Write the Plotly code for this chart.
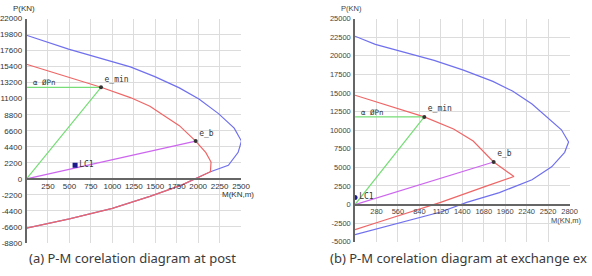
import plotly.graph_objects as go

W, H = 592, 276

# ---------------- Chart (a) data ----------------
a_nom_M = [0, 490, 1210, 1495, 1781, 2009, 2237, 2420, 2504, 2466, 2352, 2143, 1800, 1438, 1000, 500, 0]
a_nom_P = [19700, 17790, 15360, 14030, 12480, 10940, 8950, 6960, 5180, 3640, 1860, 980, -900, -2400, -4050, -5500, -6770]
a_des_M = [0, 480, 868, 1210, 1438, 1600, 1781, 1971, 2090, 2150, 2143, 1800, 1438, 1000, 500, 0]
a_des_P = [15720, 14030, 12560, 11150, 9960, 8700, 7300, 5180, 3600, 2300, 980, -900, -2400, -4050, -5500, -6770]
a_emin = (868, 12560)
a_eb = (1971, 5180)
a_lc1 = (566, 1860)
a_xticks = [250, 500, 750, 1000, 1250, 1500, 1750, 2000, 2250, 2500]
a_yticks = [22000, 19800, 17600, 15400, 13200, 11000, 8800, 6600, 4400, 2200, 0,
            -2200, -4400, -6600, -8800]

# ---------------- Chart (b) data ----------------
b_nom_M = [0, 265, 1032, 1415, 1799, 2055, 2310, 2524, 2694, 2787, 2736, 2566, 2310, 1884, 1458, 1117, 0]
b_nom_P = [22620, 21530, 19370, 18070, 16550, 15250, 13520, 11570, 10050, 8400, 7020, 5070, 3330, 1600, 300, -1000, -4030]
b_des_M = [0, 307, 904, 1286, 1542, 1809, 2074, 1713, 1117, 392, 0]
b_des_P = [14690, 13730, 11780, 10150, 8530, 5720, 3770, 2470, 300, -2080, -3380]
b_emin = (904, 11780)
b_eb = (1809, 5720)
b_lc1 = (0, 950)
b_xticks = [280, 560, 840, 1120, 1400, 1680, 1960, 2240, 2520, 2800]
b_yticks = [25000, 22500, 20000, 17500, 15000, 12500, 10000, 7500, 5000, 2500, 0,
            -2500, -5000]

BLUE = "#7070ee"
RED = "#ee6666"
GREEN = "#77dd77"
MAG = "#cc66ee"
GRID = "#dcdcdc"
AXIS = "#666666"
TICKF = dict(family="Liberation Sans", size=8, color="#333333")
TICKF2 = dict(family="Liberation Sans", size=7.5, color="#444444")

fig = go.Figure()


def add_chart(xa, ya, nomM, nomP, desM, desP, emin, eb, lc1, lc1sym):
    fig.add_trace(go.Scatter(x=nomM, y=nomP, mode="lines", line=dict(color=BLUE, width=1.2),
                             xaxis=xa, yaxis=ya, hoverinfo="skip"))
    fig.add_trace(go.Scatter(x=desM, y=desP, mode="lines", line=dict(color=RED, width=1.2),
                             xaxis=xa, yaxis=ya, hoverinfo="skip"))
    fig.add_trace(go.Scatter(x=[0, emin[0], 0], y=[emin[1], emin[1], 0], mode="lines",
                             line=dict(color=GREEN, width=1.2), xaxis=xa, yaxis=ya, hoverinfo="skip"))
    fig.add_trace(go.Scatter(x=[0, eb[0]], y=[0, eb[1]], mode="lines",
                             line=dict(color=MAG, width=1.2), xaxis=xa, yaxis=ya, hoverinfo="skip"))
    fig.add_trace(go.Scatter(x=[emin[0], eb[0]], y=[emin[1], eb[1]], mode="markers+text",
                             marker=dict(color="#333333", size=4),
                             text=["e_min", "e_b"], textposition="top right",
                             textfont=dict(family="DejaVu Sans Mono", size=8, color="#333333"),
                             xaxis=xa, yaxis=ya, hoverinfo="skip"))
    fig.add_trace(go.Scatter(x=[lc1[0]], y=[lc1[1]], mode="markers+text",
                             marker=dict(color="#1a1a8c", size=5, symbol=lc1sym),
                             text=["LC1"], textposition="middle right",
                             textfont=dict(family="DejaVu Sans Mono", size=8, color="#333333"),
                             xaxis=xa, yaxis=ya, hoverinfo="skip"))
    fig.add_annotation(x=0, y=emin[1], xref=xa, yref=ya, text="α ØPn", showarrow=False,
                       xanchor="left", yanchor="bottom", xshift=4, yshift=-2,
                       font=dict(family="DejaVu Sans Mono", size=7.5, color="#333333"))


add_chart("x", "y", a_nom_M, a_nom_P, a_des_M, a_des_P, a_emin, a_eb, a_lc1, "square")
add_chart("x2", "y2", b_nom_M, b_nom_P, b_des_M, b_des_P, b_emin, b_eb, b_lc1, "circle")

ax_common = dict(showgrid=True, gridcolor=GRID, gridwidth=1, zeroline=False,
                 ticks="", fixedrange=True)

fig.update_layout(
    width=W, height=H, margin=dict(l=0, r=0, t=0, b=0),
    paper_bgcolor="white", plot_bgcolor="white", showlegend=False,
    xaxis=dict(domain=[24 / W, 243 / W], range=[0, 2500], tickvals=a_xticks,
               ticktext=[str(v) for v in a_xticks], tickfont=TICKF,
               anchor="free", position=1 - 180.7 / H, showline=True, linecolor=AXIS, linewidth=1.5,
               ticklabelstandoff=0, **ax_common),
    yaxis=dict(domain=[1 - 247 / H, 1 - 15 / H], range=[-8800, 22000], tickvals=a_yticks,
               ticktext=[str(v) for v in a_yticks], tickfont=TICKF,
               anchor="x", showline=True, linecolor=AXIS, linewidth=1.5, ticklabelstandoff=1,
               **ax_common),
    xaxis2=dict(domain=[359.3 / W, 578.3 / W], range=[0, 2800], tickvals=b_xticks,
                ticktext=[str(v) for v in b_xticks], tickfont=TICKF2,
                anchor="free", position=1 - 207.3 / H, showline=True, linecolor=AXIS, linewidth=1.5,
                ticklabelstandoff=0, **ax_common),
    yaxis2=dict(domain=[1 - 245.8 / H, 1 - 15 / H], range=[-5000, 25000], tickvals=b_yticks,
                ticktext=[str(v) for v in b_yticks], tickfont=TICKF2,
                anchor="x2", showline=True, linecolor=AXIS, linewidth=1.5, ticklabelstandoff=1,
                **ax_common),
)

lblf = dict(family="Liberation Sans", size=8, color="#333333")
fig.add_annotation(x=8 / W, y=1 - 5 / H, xref="paper", yref="paper", text="P(KN)", showarrow=False,
                   xanchor="left", yanchor="middle", font=lblf)
fig.add_annotation(x=258 / W, y=1 - 196.5 / H, xref="paper", yref="paper", text="M(KN,m)", showarrow=False,
                   xanchor="right", yanchor="middle", font=lblf)
fig.add_annotation(x=343 / W, y=1 - 5 / H, xref="paper", yref="paper", text="P(KN)", showarrow=False,
                   xanchor="left", yanchor="middle", font=dict(family="Liberation Sans", size=7.5, color="#444444"))
fig.add_annotation(x=592 / W, y=1 - 223.5 / H, xref="paper", yref="paper", text="M(KN,m)", showarrow=False,
                   xanchor="right", yanchor="middle", font=dict(family="Liberation Sans", size=7.5, color="#444444"))

capf = dict(family="Noto Sans", size=13, color="#3a3a3a")
fig.add_annotation(x=25 / W, y=1 - 263 / H, xref="paper", yref="paper",
                   text="(a) P-M corelation diagram at post", showarrow=False,
                   xanchor="left", yanchor="middle", font=capf)
fig.add_annotation(x=331.7 / W, y=1 - 263 / H, xref="paper", yref="paper",
                   text="(b) P-M corelation diagram at exchange ex", showarrow=False,
                   xanchor="left", yanchor="middle", font=capf)

fig.write_html("out.html")
